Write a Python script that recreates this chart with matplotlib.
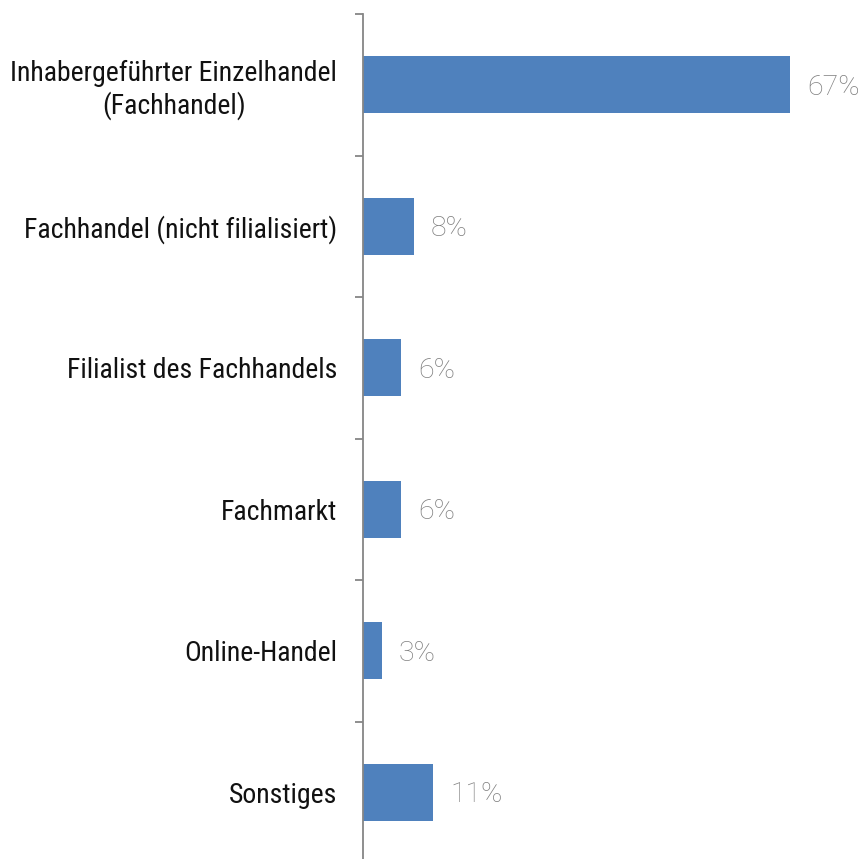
import matplotlib
matplotlib.use("Agg")
import matplotlib.pyplot as plt
from matplotlib import font_manager

categories = ["Inhabergeführter Einzelhandel\n(Fachhandel)",
              "Fachhandel (nicht filialisiert)",
              "Filialist des Fachhandels",
              "Fachmarkt",
              "Online-Handel",
              "Sonstiges"]
values = [67, 8, 6, 6, 3, 11]
value_labels = ["67%", "8%", "6%", "6%", "3%", "11%"]

names = {f.name for f in font_manager.fontManager.ttflist}
cat_font = "Liberation Sans Narrow" if "Liberation Sans Narrow" in names else "Roboto Condensed" if "Roboto Condensed" in names else "Liberation Sans"
val_font = "Roboto"

W, H, DPI = 863, 859, 100
fig = plt.figure(figsize=(W / DPI, H / DPI), dpi=DPI)
ax = fig.add_axes([363 / W, -4 / H, 1 - 363 / W, 849 / H])

n = len(categories)
ypos = list(range(n))
ax.barh(ypos, values, height=0.4, color="#4f81bd")
ax.set_ylim(n - 0.5, -0.5)
ax.set_xlim(0, 67 * (W - 363) / 427)

for y, v, lab in zip(ypos, values, value_labels):
    ax.annotate(lab, xy=(v, y), xytext=(12.2, -1.8), textcoords="offset points",
                ha="left", va="center", fontsize=20.5, color="#7f7f7f",
                fontfamily=val_font, fontweight="light")

for s in ["top", "right", "bottom"]:
    ax.spines[s].set_visible(False)
ax.spines["left"].set_color("#868686")
ax.spines["left"].set_linewidth(1.3)
ax.set_xticks([])
ax.set_yticks([i - 0.5 for i in range(n + 1)])
ax.set_yticklabels([])
ax.tick_params(axis="y", which="major", length=6, width=1.3, color="#868686")
ax.set_yticks(ypos, minor=True)
ax.set_yticklabels(categories, minor=True, fontsize=20, fontfamily=cat_font,
                   multialignment="center", color="#111111")
ax.tick_params(axis="y", which="minor", length=0, pad=18.7)

fig.savefig("out.png", dpi=DPI)
